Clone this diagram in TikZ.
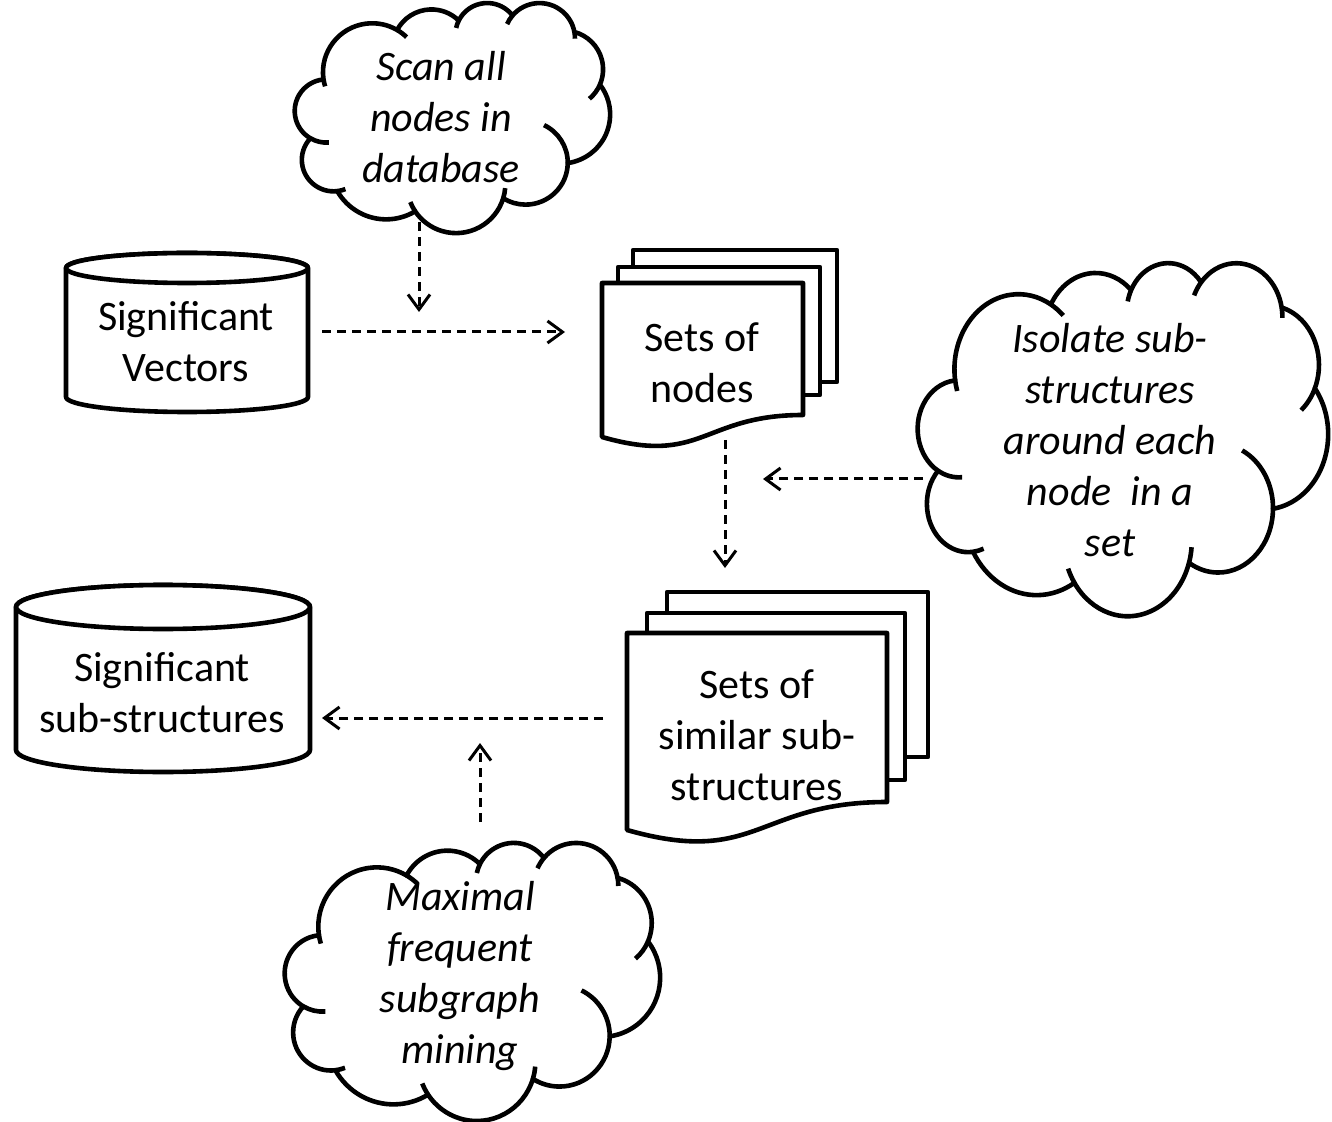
\documentclass[tikz,border=0pt]{standalone}
\usepackage{fontspec}
\setmainfont{Carlito}
\usetikzlibrary{arrows.meta}
\tikzset{
  shp/.style={line width=2.3pt, fill=white, draw=black, line join=round},
  inner/.style={line width=2.3pt, draw=black},
  dflow/.style={line width=1.5pt, dash pattern=on 4.5pt off 3pt,
    -{Straight Barb[length=7.5pt,width=11pt,line width=1.5pt]}},
  lbl/.style={align=center, font=\fontsize{21}{25.5}\selectfont, inner sep=0pt},
  ilbl/.style={align=center, font=\fontsize{21}{25.5}\selectfont\itshape, inner sep=0pt},
}
% cloud in a 432x432 box, mapped to x0,y0,W,H (pixels)
\newcommand\drawcloud[4]{%
\begin{scope}[shift={(#1,#2)}, x={({#3/432*0.5pt},0pt)}, y={(0pt,{-#4/432*0.5pt})}]
  \path[shp] (39.00,143.70)
    arc[start angle=-187.75, end angle=-59.64, x radius=67.53, y radius=91.90]
    arc[start angle=-152.02, end angle=-45.45, x radius=53.33, y radius=72.67]
    arc[start angle=-153.49, end angle=-37.34, x radius=43.65, y radius=59.45]
    arc[start angle=-139.72, end angle=-10.22, x radius=48.57, y radius=65.95]
    arc[start angle=-74.77, end angle=23.22, x radius=53.33, y radius=72.73]
    arc[start angle=-37.53, end angle=81.86, x radius=67.75, y radius=92.20]
    arc[start angle=0.46, end angle=121.98, x radius=57.85, y radius=78.67]
    arc[start angle=16.84, end angle=146.23, x radius=67.52, y radius=92.15]
    arc[start angle=58.98, end angle=150.19, x radius=77.20, y radius=105.43]
    arc[start angle=-276.69, end angle=-136.89, x radius=43.60, y radius=59.18]
    arc[start angle=-239.66, end angle=-95.89, x radius=43.45, y radius=59.45]
    -- cycle;
  \path[inner]
    (43.08,204.13) ++(85.54:43.45 and 59.45) arc[start angle=85.54, end angle=120.34, x radius=43.45, y radius=59.45]
    (52.96,295.89) ++(68.23:43.60 and 59.18) arc[start angle=68.23, end angle=83.31, x radius=43.60, y radius=59.18]
    (220.95,341.41) ++(146.23:67.52 and 92.15) arc[start angle=146.23, end angle=158.47, x radius=67.52, y radius=92.15]
    (220.95,341.41) ++(4.74:67.52 and 92.15) arc[start angle=4.74, end angle=16.84, x radius=67.52, y radius=92.15]
    (316.22,301.39) ++(-64.02:57.85 and 78.67) arc[start angle=-64.02, end angle=0.46, x radius=57.85, y radius=78.67]
    (369.18,125.89) ++(23.22:53.33 and 72.73) arc[start angle=23.22, end angle=49.65, x radius=53.33, y radius=72.73]
    (335.39,67.41) ++(-10.22:48.57 and 65.95) arc[start angle=-10.22, end angle=0.82, x radius=48.57, y radius=65.95]
    (335.39,67.41) ++(-156.30:48.57 and 65.95) arc[start angle=-156.30, end angle=-139.72, x radius=48.57, y radius=65.95]
    (263.63,60.85) ++(-167.72:43.65 and 59.45) arc[start angle=-167.72, end angle=-153.49, x radius=43.65, y radius=59.45]
    (105.92,131.30) ++(-59.64:67.53 and 91.90) arc[start angle=-59.64, end angle=-45.76, x radius=67.53, y radius=91.90]
    (105.92,131.30) ++(163.18:67.53 and 91.90) arc[start angle=163.18, end angle=172.25, x radius=67.53, y radius=91.90];
\end{scope}}
% cylinder: left, right, top centre y, bottom centre y, ry
\newcommand\drawcyl[5]{%
  \path[shp] (#1,#3) -- (#1,#4)
    arc[start angle=180, end angle=0, x radius={(#2-#1)/2}, y radius=#5]
    -- (#2,#3)
    arc[start angle=0, end angle=-180, x radius={(#2-#1)/2}, y radius=#5] -- cycle;
  \path[shp] (#2,#3) arc[start angle=0, end angle=360, x radius={(#2-#1)/2}, y radius=#5];}
% front document: left, right, top, bottom-left y, bottom-right y, control y
\newcommand\drawdoc[6]{%
  \path[shp] (#1,#4) -- (#1,#3) -- (#2,#3) -- (#2,#5)
    .. controls ({(#1+#2)/2},#5) and ({(#1+#2)/2},#6) .. (#1,#4) -- cycle;}
\begin{document}
\begin{tikzpicture}[x=0.5pt,y=-0.5pt]
\useasboundingbox[fill=white] (0,0) rectangle (1332,1122);

% clouds
\drawcloud{295}{2.3}{315}{230}
\drawcloud{918}{262}{410}{353}
\drawcloud{285}{842}{375}{278}

% cylinders
\drawcyl{66}{308}{268}{397}{15}
\drawcyl{16}{310}{607}{750}{22}

% Sets of nodes
\path[shp] (633,250) rectangle (837,382);
\path[shp] (618,267) rectangle (820,395);
\drawdoc{602}{803}{283}{437}{415}{466}

% Sets of similar sub-structures
\path[shp] (667,592) rectangle (928,757);
\path[shp] (647,613) rectangle (905,780);
\drawdoc{627}{887}{633}{830}{802}{867}

% labels
\node[lbl] (sv) at (186,342) {Significant\\Vectors};
\node[lbl] (ss) at (162,693) {Significant\\sub-structures};
\node[lbl] (sn) at (702,363) {Sets of\\nodes};
\node[lbl] (sss) at (757,735) {Sets of\\similar sub-\\structures};
\node[ilbl] (scan) at (441,117) {Scan all\\nodes in\\database};
\node[ilbl] (iso) at (1110,440) {Isolate sub-\\structures\\around each\\node~~in a\\set};
\node[ilbl] (maxf) at (460,976) {Maximal\\frequent\\subgraph\\mining};

% connector end points
\coordinate (scanB) at (419,222);
\coordinate (scanT) at (419,312);
\coordinate (svR) at (322,332);
\coordinate (snL) at (565,332);
\coordinate (snB) at (725,440);
\coordinate (sssT) at (725,568);
\coordinate (isoL) at (923,479);
\coordinate (isoT) at (763,479);
\coordinate (sssL) at (603,718);
\coordinate (ssR) at (322,718);
\coordinate (maxT) at (480,822);
\coordinate (maxE) at (480,743);

\draw[dflow] (scanB) -- (scanT);
\draw[dflow] (svR) -- (snL);
\draw[dflow] (snB) -- (sssT);
\draw[dflow] (isoL) -- (isoT);
\draw[dflow] (sssL) -- (ssR);
\draw[dflow] (maxT) -- (maxE);
\end{tikzpicture}
\end{document}
